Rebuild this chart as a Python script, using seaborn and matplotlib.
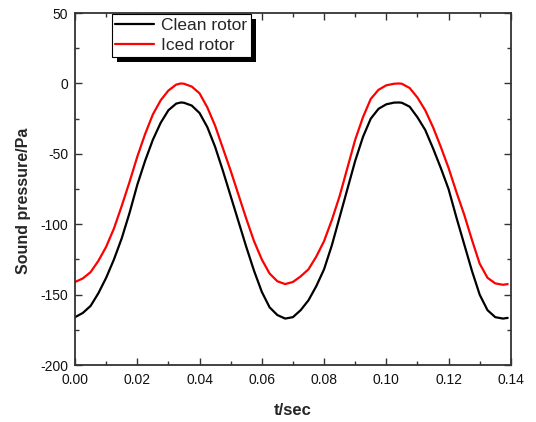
import numpy as np
import pandas as pd
import matplotlib
matplotlib.use("Agg")
import matplotlib.pyplot as plt
import seaborn as sns
from matplotlib.ticker import MultipleLocator
from matplotlib.patches import Rectangle
from matplotlib.transforms import IdentityTransform

t = [0.0000, 0.0025, 0.0050, 0.0075, 0.0100, 0.0125, 0.0150, 0.0175, 0.0200, 0.0225,
     0.0250, 0.0275, 0.0300, 0.0325, 0.0340, 0.0350, 0.0375, 0.0400, 0.0425, 0.0450,
     0.0475, 0.0500, 0.0525, 0.0550, 0.0575, 0.0600, 0.0625, 0.0650, 0.0675, 0.0700,
     0.0725, 0.0750, 0.0775, 0.0800, 0.0825, 0.0850, 0.0875, 0.0900, 0.0925, 0.0950,
     0.0975, 0.1000, 0.1025, 0.1040, 0.1050, 0.1075, 0.1100, 0.1125, 0.1150, 0.1175,
     0.1200, 0.1225, 0.1250, 0.1275, 0.1300, 0.1325, 0.1350, 0.1375, 0.1390]
clean = [-166, -163, -158, -149, -138, -125, -110, -92, -72, -55,
         -40, -28, -19, -14.3, -13.5, -13.7, -15.7, -21, -31, -45,
         -62, -80, -98, -116, -133, -148, -159, -164.5, -167, -166,
         -161, -154, -144, -132, -115, -95, -75, -55, -38, -25,
         -18, -14.8, -13.6, -13.5, -13.7, -16.5, -24, -33, -46, -60,
         -75, -95, -114, -133, -150, -161, -166, -167, -166.5]
iced = [-141, -138.5, -134, -126, -116, -103, -87, -70, -52, -36,
        -22, -12, -5, -0.8, 0, -0.2, -2.2, -7, -17, -30,
        -46, -62, -79, -96, -112, -125, -135, -140.5, -142.5, -141,
        -137, -132, -123, -112, -97, -80, -60, -40, -24, -11,
        -4.5, -1.3, -0.2, 0, -0.2, -3.2, -10, -19, -31, -45,
        -60, -77, -93, -111, -128, -138, -142, -143, -142.5]
series_names = ["Clean rotor", "Iced rotor"]

df = pd.DataFrame({
    "t": t * 2,
    "p": clean + iced,
    "series": [series_names[0]] * len(t) + [series_names[1]] * len(t),
})

sns.set_style("ticks")
plt.rcParams["font.family"] = ["Liberation Sans", "DejaVu Sans"]
plt.rcParams["axes.unicode_minus"] = False

fig = plt.figure(figsize=(5.36, 4.22), dpi=100)
ax = fig.add_axes([0.14, 0.135, 0.813, 0.834])

sns.lineplot(data=df, x="t", y="p", hue="series", palette=["black", "red"],
             linewidth=1.6, ax=ax, sort=False, estimator=None)

ax.set_xlim(0, 0.14)
ax.set_ylim(-200, 50)
ax.xaxis.set_major_locator(MultipleLocator(0.02))
ax.xaxis.set_minor_locator(MultipleLocator(0.01))
ax.yaxis.set_major_locator(MultipleLocator(50))
ax.yaxis.set_minor_locator(MultipleLocator(25))
ax.set_xticks(ax.get_xticks())
ax.set_xticklabels([f"{v:.2f}" for v in ax.get_xticks()])
ax.set_xlim(0, 0.14)
ax.tick_params(which="both", direction="in", top=True, right=True,
               labelsize=10, color="#333333", width=1, labelcolor="#111111")
ax.tick_params(which="major", length=5)
ax.tick_params(axis="x", which="major", pad=6)
ax.tick_params(axis="y", which="major", pad=5)
ax.tick_params(which="minor", length=3)
for s in ax.spines.values():
    s.set_color("#333333")
    s.set_linewidth(1.3)

ax.set_xlabel("t/sec", fontsize=12, fontweight="bold", labelpad=11)
ax.set_ylabel("Sound pressure/Pa", fontsize=11.5, fontweight="bold")
ax.yaxis.set_label_coords(-0.1005, 0.466)

leg = ax.legend(loc="upper left", bbox_to_anchor=(0.084, 0.997), fontsize=12.5,
                frameon=True, fancybox=False, edgecolor="black", framealpha=1,
                handlelength=2.2, borderaxespad=0, borderpad=0.22,
                labelspacing=0.3, handletextpad=0.4)
leg.get_frame().set_linewidth(0.8)

fig.canvas.draw()
bb = leg.get_window_extent()
shadow = Rectangle((bb.x0 + 5, bb.y0 - 5), bb.width, bb.height,
                   transform=IdentityTransform(), facecolor="black",
                   edgecolor="none", zorder=leg.get_zorder() - 0.5, clip_on=False)
ax.add_artist(shadow)

fig.savefig("out.png", dpi=100)
